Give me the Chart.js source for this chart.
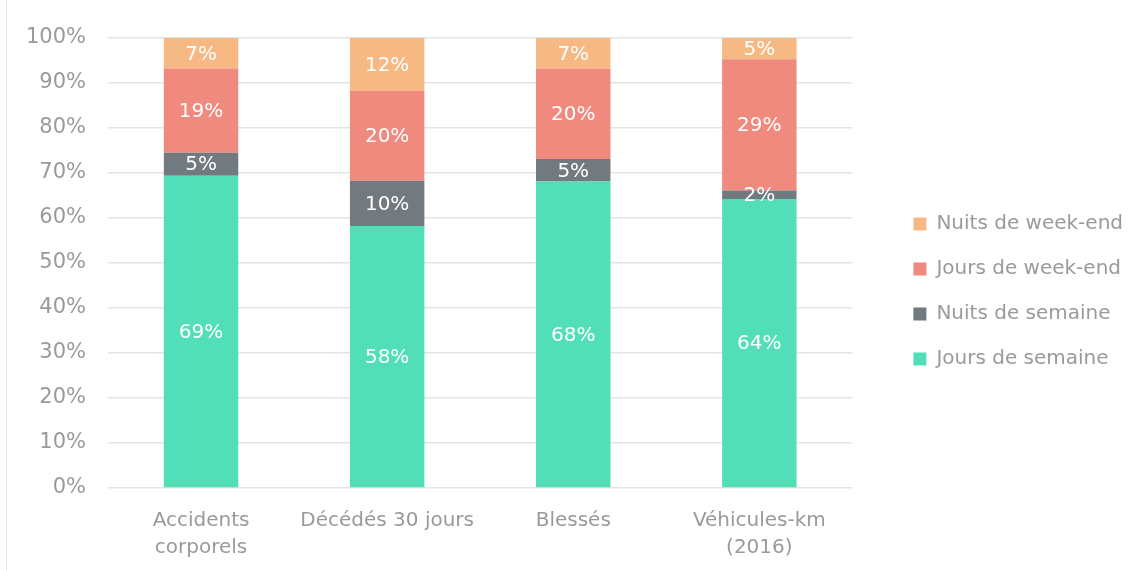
<!DOCTYPE html>
<html lang="fr">
<head>
    <meta charset="UTF-8">
    <title>Répartition jours / nuits</title>
    <script src="https://cdn.jsdelivr.net/npm/chart.js"></script>
    <style>
        body {
            margin: 0;
            background: #fff;
        }
        #wrap {
            position: relative;
            width: 1133px;
            height: 570px;
        }
        #frame {
            position: absolute;
            left: 6px;
            top: 0;
            width: 1px;
            height: 570px;
            background: #e2e2e2;
        }
    </style>
</head>
<body>
<div id="wrap">
    <div id="frame"></div>
    <canvas id="chart" width="1133" height="570"></canvas>
</div>

<script>
    // categories
    let categories = [["Accidents", "corporels"], "Décédés 30 jours", "Blessés", ["Véhicules-km", "(2016)"]];

    // series (share in %)
    let joursSemaine   = [69.4, 58.2, 68.1, 64.2];
    let nuitsSemaine   = [5.1, 10.1, 5.0, 1.9];
    let joursWeekend   = [18.7, 20.0, 20.1, 29.2];
    let nuitsWeekend   = [6.8, 11.7, 6.8, 4.7];

    let seriesNames = ["Jours de semaine", "Nuits de semaine", "Jours de week-end", "Nuits de week-end"];
    let colors = ["#52dfb8", "#72797f", "#f08a7e", "#f6b984"];

    let yTicks = [0, 10, 20, 30, 40, 50, 60, 70, 80, 90, 100];

    const FONT = "'DejaVu Sans', sans-serif";
    const GREY = "#9a9a9a";

    // write the rounded % in the middle of every segment
    const segmentLabels = {
        id: "segmentLabels",
        afterDatasetsDraw(chart) {
            const ctx = chart.ctx;
            ctx.save();
            ctx.font = "20px " + FONT;
            ctx.fillStyle = "#ffffff";
            ctx.textAlign = "center";
            ctx.textBaseline = "middle";
            chart.data.datasets.forEach((ds, i) => {
                chart.getDatasetMeta(i).data.forEach((bar, j) => {
                    const p = bar.getProps(["x", "y", "base"], true);
                    ctx.fillText(Math.round(ds.data[j]) + "%", p.x, (p.y + p.base) / 2 + 1);
                });
            });
            ctx.restore();
        }
    };

    const allSeries = [joursSemaine, nuitsSemaine, joursWeekend, nuitsWeekend];

    new Chart(document.getElementById("chart"), {
        type: "bar",
        data: {
            labels: categories,
            datasets: allSeries.map((vals, i) => ({
                label: seriesNames[i],
                data: vals,
                backgroundColor: colors[i],
                borderWidth: 0,
                barPercentage: 0.4,
                categoryPercentage: 1.0
            }))
        },
        options: {
            responsive: false,
            animation: false,
            layout: { padding: { top: 13, bottom: 0, left: 0, right: 0 } },
            plugins: {
                tooltip: { enabled: false },
                legend: {
                    position: "right",
                    reverse: true,
                    maxWidth: 300,
                    labels: {
                        boxWidth: 13,
                        boxHeight: 13,
                        padding: 25,
                        color: GREY,
                        font: { family: FONT, size: 20 }
                    }
                }
            },
            scales: {
                x: {
                    stacked: true,
                    grid: { display: false },
                    border: { display: false },
                    ticks: {
                        color: GREY,
                        padding: 11,
                        maxRotation: 0,
                        font: { family: FONT, size: 20, lineHeight: 1.35 }
                    },
                    afterFit(s) { s.height = 82; }
                },
                y: {
                    stacked: true,
                    min: 0,
                    max: 100,
                    afterBuildTicks(s) { s.ticks = yTicks.map(v => ({ value: v })); },
                    grid: { color: "#e4e4e4", lineWidth: 1.5, drawTicks: false },
                    border: { display: false },
                    ticks: {
                        color: GREY,
                        padding: 22,
                        font: { family: FONT, size: 21 },
                        callback: v => v + "%"
                    },
                    afterFit(s) { s.width = 108; }
                },
                // empty spacers: above the plot, and between the plot and the legend
                topGap: {
                    position: "top",
                    grid: { display: false },
                    border: { display: false },
                    ticks: { display: false },
                    afterFit(s) { s.height = 25; }
                },
                gap: {
                    position: "right",
                    grid: { display: false },
                    border: { display: false },
                    ticks: { display: false },
                    afterFit(s) { s.width = 36; }
                }
            }
        },
        plugins: [segmentLabels]
    });
</script>
</body>
</html>
